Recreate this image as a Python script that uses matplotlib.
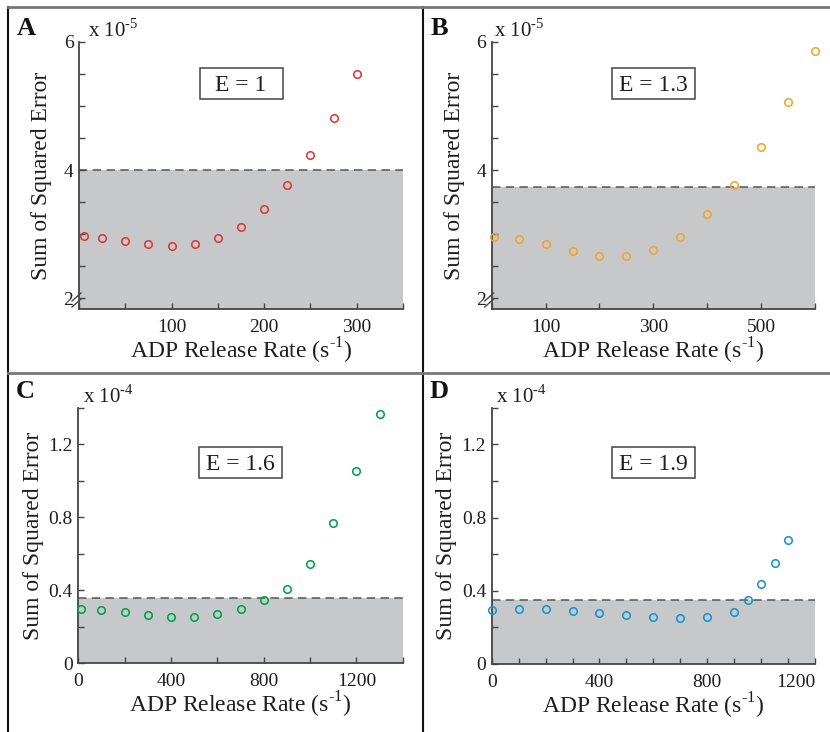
import numpy as np
import matplotlib.pyplot as plt
from matplotlib.lines import Line2D
from matplotlib.patches import Rectangle
from matplotlib.ticker import MultipleLocator

plt.rcParams['font.family'] = ['Liberation Serif', 'DejaVu Serif']
plt.rcParams['mathtext.fontset'] = 'custom'
plt.rcParams['mathtext.rm'] = 'Liberation Serif'

# panel A, E = 1 (units of 1e-5)
rate_a = [5, 25, 50, 75, 100, 125, 150, 175, 200, 225, 250, 275, 300]
sse_a = [2.97, 2.94, 2.89, 2.84, 2.82, 2.84, 2.94, 3.11, 3.39, 3.77, 4.24, 4.82, 5.50]
thr_a = 4.0

# panel B, E = 1.3 (units of 1e-5)
rate_b = [5, 50, 100, 150, 200, 250, 300, 350, 400, 450, 500, 550, 600]
sse_b = [2.96, 2.92, 2.84, 2.73, 2.65, 2.65, 2.75, 2.96, 3.31, 3.77, 4.36, 5.06, 5.86]
thr_b = 3.73

# panel C, E = 1.6 (units of 1e-4)
rate_c = [10, 100, 200, 300, 400, 500, 600, 700, 800, 900, 1000, 1100, 1200, 1300]
sse_c = [0.295, 0.293, 0.282, 0.264, 0.253, 0.255, 0.269, 0.300, 0.346, 0.406,
         0.546, 0.770, 1.051, 1.364]
thr_c = 0.357

# panel D, E = 1.9 (units of 1e-4)
rate_d = [0, 100, 200, 300, 400, 500, 600, 700, 800, 900, 950, 1000, 1050, 1100]
sse_d = [0.297, 0.299, 0.299, 0.291, 0.279, 0.268, 0.258, 0.251, 0.257, 0.284,
         0.348, 0.439, 0.550, 0.678]
thr_d = 0.352

W, H = 830, 732
fig = plt.figure(figsize=(W / 100, H / 100), dpi=100)


def fx(x):
    return x / W


def fy(y):
    return 1 - y / H


HY = '\u2010'  # short hyphen for superscripts

panels = [
    dict(letter='A', x=rate_a, y=sse_a, thr=thr_a, color='#d93a36', E='1', exp='5',
         xlim=(0, 350), ylim=(1.83, 6), xt=[100, 200, 300], xminor=50,
         yt=[2, 4, 6], yminor=0.5, rect=(79, 42, 403, 309), brk=True,
         letpos=(17, 35), exp_x=88, box=(68, 99, 91), ylpad=8),
    dict(letter='B', x=rate_b, y=sse_b, thr=thr_b, color='#f0a533', E='1.3', exp='5',
         xlim=(0, 600), ylim=(1.83, 6), xt=[100, 300, 500], xminor=100,
         yt=[2, 4, 6], yminor=0.5, rect=(491.7, 42, 815, 309), brk=True,
         letpos=(431, 35), exp_x=494, box=(68, 99, 91), ylpad=8),
    dict(letter='C', x=rate_c, y=sse_c, thr=thr_c, color='#00a04f', E='1.6', exp='4',
         xlim=(0, 1400), ylim=(0, 1.4), xt=[0, 400, 800, 1200], xminor=200,
         yt=[0, 0.4, 0.8, 1.2], yminor=0.2, rect=(78.3, 407.7, 402.7, 663.3), brk=False,
         letpos=(16, 398), exp_x=83, box=(447, 478, 470), ylpad=3),
    dict(letter='D', x=rate_d, y=sse_d, thr=thr_d, color='#1a94d0', E='1.9', exp='4',
         xlim=(0, 1200), ylim=(0, 1.4), xt=[0, 400, 800, 1200], xminor=100,
         yt=[0, 0.4, 0.8, 1.2], yminor=0.2, rect=(491.7, 407.7, 815, 664), brk=False,
         letpos=(430, 398), exp_x=496, box=(447, 478, 470), ylpad=3),
]

axis_col = '#454545'
txt_col = '#1e1e1e'

for p in panels:
    l, t, r, b = p['rect']
    w, h = r - l, b - t
    ax = fig.add_axes([fx(l), fy(b), fx(w), h / H])
    ax.axhspan(p['ylim'][0], p['thr'], color='#c7c8ca', lw=0, zorder=0)
    ax.axhline(p['thr'], color='#555555', lw=1.1, ls=(0, (5.5, 3.5)), zorder=1)
    ax.plot(p['x'], p['y'], 'o', mfc='none', mec=p['color'], ms=5.4, mew=1.15,
            zorder=3, clip_on=False)
    ax.set_xlim(*p['xlim'])
    ax.set_ylim(*p['ylim'])
    ax.set_xticks(p['xt'])
    ax.xaxis.set_minor_locator(MultipleLocator(p['xminor']))
    ax.set_yticks(p['yt'])
    ax.yaxis.set_minor_locator(MultipleLocator(p['yminor']))
    ax.set_yticklabels([('%g' % v) for v in p['yt']])
    for s in ['top', 'right']:
        ax.spines[s].set_visible(False)
    for s in ['left', 'bottom']:
        ax.spines[s].set_color(axis_col)
        ax.spines[s].set_linewidth(1.3)
    ax.tick_params(which='both', direction='in', color=axis_col, width=1.0,
                   length=4, labelsize=14, labelcolor=txt_col)
    ax.tick_params(axis='x', pad=7)
    ax.tick_params(axis='y', pad=4)
    ax.set_facecolor('none')
    ax.set_xlabel('ADP Release Rate (s$^{' + HY + '1}$)', fontsize=17,
                  color=txt_col, labelpad=0)
    ax.set_ylabel('Sum of Squared Error', fontsize=17, color=txt_col,
                  labelpad=p['ylpad'])

    # E label box
    by0, by1, bbase = p['box']
    cx = l + w / 2
    ax.add_patch(Rectangle(((cx - 41.5 - l) / w, (b - by1) / h), 83 / w, (by1 - by0) / h,
                           transform=ax.transAxes, fc='white', ec='#444444', lw=1.1,
                           zorder=4, clip_on=False))
    ax.text(0.5, (b - bbase) / h, 'E = ' + p['E'], transform=ax.transAxes, ha='center',
            va='baseline', fontsize=17, color=txt_col, zorder=5)

    fig.text(fx(p['exp_x']), fy(t - 5), 'x 10$^{' + HY + p['exp'] + '}$',
             fontsize=15, color=txt_col, ha='left', va='baseline')
    fig.text(fx(p['letpos'][0]), fy(p['letpos'][1]), p['letter'], fontsize=19,
             fontweight='bold', color='#111111', ha='left', va='baseline')
    if p['brk']:
        for dy in (0, 6):
            ax.plot([-7 / w, 2 / w], [(2 + dy) / h, (10 + dy) / h], color=axis_col,
                    lw=1.0, transform=ax.transAxes, clip_on=False)
    if p['letter'] == 'D':
        labs = ax.get_xticklabels()
        labs[-1].set_ha('right')

# panel frame lines
fig.add_artist(Line2D([fx(8), fx(8)], [fy(7), 0], color='#111111', lw=1.5))
fig.add_artist(Line2D([fx(423.3), fx(423.3)], [fy(7), 0], color='#111111', lw=1.5))
fig.add_artist(Line2D([fx(8), 1], [fy(7), fy(7)], color='#777777', lw=2))
fig.add_artist(Line2D([fx(8), 1], [fy(372.7), fy(372.7)], color='#777777', lw=2))

fig.savefig('out.png', dpi=100)
